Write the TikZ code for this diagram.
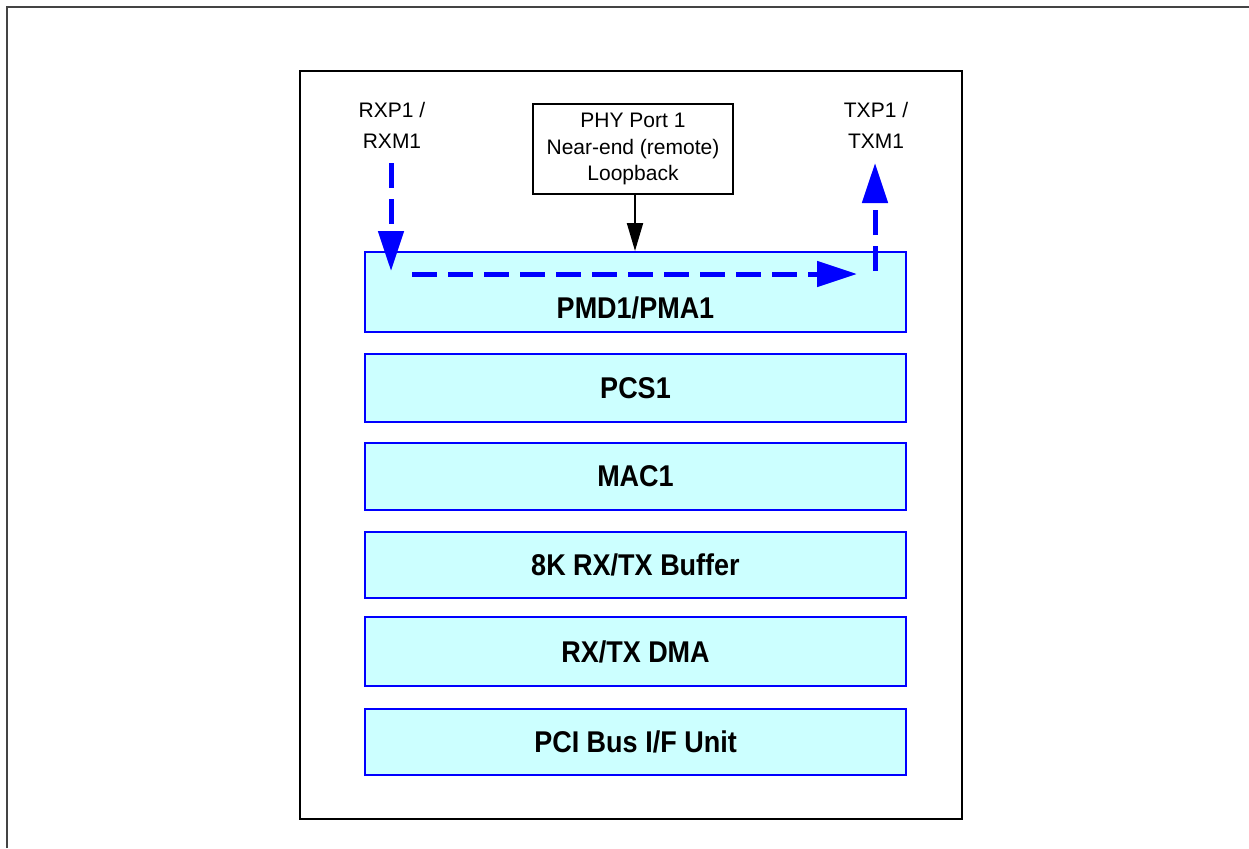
\documentclass[tikz,border=0pt]{standalone}
\usepackage{fontspec}
\setmainfont{Liberation Sans}
\newfontfamily\labfont[FakeStretch=0.9]{Liberation Sans}
\usetikzlibrary{arrows.meta}
\definecolor{boxfill}{HTML}{CCFFFF}
\definecolor{boxline}{HTML}{0000FF}
\definecolor{framegray}{HTML}{444444}
\begin{document}
\begin{tikzpicture}[x=1pt,y=-1pt,
  layerfont/.style={font=\labfont\bfseries\fontsize{30}{34}\selectfont},
  layerbox/.style={draw=boxline,fill=boxfill,line width=2pt,minimum width=541pt,inner sep=0pt,layerfont},
  smalltext/.style={font=\fontsize{21}{31}\selectfont,align=center,inner sep=0pt},
  flow/.style={draw=boxline,line width=5pt,dash pattern=on 25pt off 11pt,
    -{Triangle[width=25pt,length=40pt]}},
  ctl/.style={draw=black,line width=2pt,-{Triangle[width=16pt,length=28pt]}}
]
\useasboundingbox (0,0) rectangle (1249,848);
% outer frame (top and left edges visible)
\draw[framegray,line width=2.5pt] (7,848) -- (7,7) -- (1249,7);
% inner box
\node[draw=black,line width=2pt,minimum width=662pt,minimum height=747pt,inner sep=0pt] (chip) at (631,445) {};
% layer boxes
\node[layerbox,minimum height=80pt] (pmd) at (635.5,292) {};
\node[layerfont,inner sep=0pt] (pmdtext) at (635.5,308) {PMD1/PMA1};
\node[layerbox,minimum height=68pt] (pcs) at (635.5,388) {PCS1};
\node[layerbox,minimum height=67pt] (mac) at (635.5,476.5) {MAC1};
\node[layerbox,minimum height=66pt] (buf) at (635.5,565) {8K RX/TX Buffer};
\node[layerbox,minimum height=69pt] (dma) at (635.5,651.5) {RX/TX DMA};
\node[layerbox,minimum height=66pt] (pci) at (635.5,742) {PCI Bus I/F Unit};
% PHY loopback box
\node[draw=black,line width=2pt,minimum width=200pt,minimum height=90pt,inner sep=0pt,
  font=\fontsize{21}{26.5}\selectfont,align=center] (phy) at (633,149) {PHY Port 1\\Near-end (remote)\\Loopback};
\draw[ctl] (phy.south -| 635,0) -- (pmd.north -| 635,0);
% RX / TX labels
\node[smalltext] (rx) at (392,125) {RXP1 /\\RXM1};
\node[smalltext] (tx) at (876,125) {TXP1 /\\TXM1};
% data path
\coordinate (rxs) at (391,163);
\coordinate (rxe) at (391,271);
\coordinate (hs) at (412,274);
\coordinate (he) at (857,274);
\coordinate (txs) at (875,271);
\coordinate (txe) at (875,163);
\draw[flow] (rxs) -- (rxe);
\draw[flow] (hs) -- (he);
\draw[flow] (txs) -- (txe);
\end{tikzpicture}
\end{document}
